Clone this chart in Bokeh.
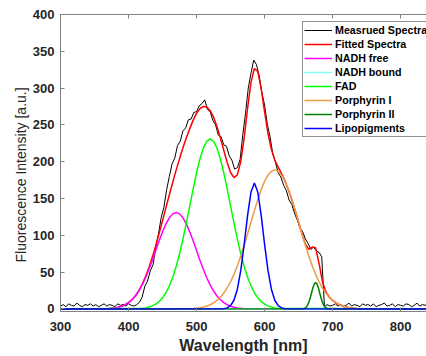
from bokeh.plotting import figure
from bokeh.models import Range1d, LinearAxis, FixedTicker, Title, Legend, LegendItem
from bokeh.embed import file_html
from bokeh.resources import INLINE

# ---------------- data ----------------
x_ticks = [300, 400, 500, 600, 700, 800]
y_ticks = [0, 50, 100, 150, 200, 250, 300, 350, 400]

# measured spectrum, 4 nm grid 300..840
meas_x = list(range(300, 841, 4))
meas_y = [4, 6, 3, 7, 5, 4, 8, 5, 3, 6, 5, 7, 4, 6, 3, 5, 7, 4, 6, 5,
          3, 7, 5, 6, 4, 7, 5, 4, 6,
          9, 16, 31, 38, 52, 60, 84, 102, 124, 138,
          162, 180, 197, 205, 222, 228, 242, 246, 257, 258,
          267, 268, 276, 279, 284, 271, 268, 256, 250, 236,
          234, 223, 221, 208, 202, 190, 192, 203, 237, 266,
          300, 320, 338, 332, 317, 294, 277, 251, 234, 211,
          199, 185, 179, 168, 161, 148, 142, 130, 121, 110,
          105, 95, 89, 81, 84, 79, 77, 71,
          3, 6, 4, 5, 7, 4, 6, 3, 5, 8, 4, 6, 5, 3, 7, 5, 6, 4, 7, 3,
          5, 6, 8, 4, 5, 7, 3, 6, 5, 4, 7, 6, 3, 5, 8, 4, 6, 5, 7]

# fitted spectrum, 5 nm grid 370..735
fit_x = [300] + list(range(370, 736, 5)) + [840]
fit_y = [0,
         0.5, 0.9, 1.5, 2.4, 3.7, 5.8, 8.6, 12.5, 17.7, 24.4,
         33.6, 44.0, 56.5, 70.5, 86.1, 102.7, 120.1, 137.7, 155.2, 172.2,
         188.6, 204.2, 218.9, 232.6, 245.0, 256.5, 265.7, 272.0, 275.1, 274.3,
         269.5, 260.5, 247.8, 232.4, 215.6, 199.0, 185.4, 178.4, 182.2, 200.3,
         232.5, 272.4, 307.9, 326.7, 322.5, 299.3, 267.8, 238.4, 216.7, 202.4,
         192.7, 183.8, 173.7, 162.0, 148.5, 133.6, 117.8, 101.9, 88.1, 81.0,
         84.2, 83.1, 62.4, 37.5, 23.2, 16.0, 11.6, 8.3, 5.8, 4.0,
         2.7, 1.8, 1.2, 0.7,
         0]

nadh_free_x = [300] + list(range(370, 571, 5)) + [840]
nadh_free_y = [0,
               0.5, 0.9, 1.5, 2.4, 3.7, 5.8, 8.6, 12.5, 17.7, 24.4,
               32.7, 42.5, 53.9, 66.3, 79.5, 92.6, 104.9, 115.6, 123.9, 129.2,
               131.0,
               129.2, 123.9, 115.6, 104.9, 92.6, 79.5, 66.3, 53.9, 42.5, 32.7,
               24.4, 17.7, 12.5, 8.6, 5.8, 3.7, 2.4, 1.5, 0.9, 0.5,
               0]

nadh_bound_x = [300, 840]
nadh_bound_y = [0, 0]

fad_x = [300] + list(range(420, 621, 5)) + [840]
fad_y = [0,
         0.9, 1.5, 2.6, 4.2, 6.6, 10.1, 15.2, 22.1, 31.3, 43.0,
         57.6, 75.0, 95.0, 117.0, 140.1, 163.2, 185.0, 203.9, 218.5, 227.8,
         231.0,
         227.8, 218.5, 203.9, 185.0, 163.2, 140.1, 117.0, 95.0, 75.0, 57.6,
         43.0, 31.3, 22.1, 15.2, 10.1, 6.6, 4.2, 2.6, 1.5, 0.9,
         0]

porph1_x = [300] + list(range(495, 736, 5)) + [840]
porph1_y = [0,
            0.7, 1.2, 1.8, 2.7, 4.0, 5.8, 8.3, 11.6, 16.0, 21.6, 28.5, 37.0,
            47.1, 58.8, 72.0, 86.5, 101.9, 117.8, 133.6, 148.5, 162.0, 173.3,
            181.8, 187.2,
            189.0,
            187.2, 181.8, 173.3, 162.0, 148.5, 133.6, 117.8, 101.9, 86.5, 72.0,
            58.8, 47.1, 37.0, 28.5, 21.6, 16.0, 11.6, 8.3, 5.8, 4.0, 2.7, 1.8,
            1.2, 0.7,
            0]

porph2_x = [300] + list(range(657, 694, 2)) + [840]
porph2_y = [0,
            0.4, 1.0, 2.4, 4.9, 9.0, 14.8, 21.8, 28.8, 34.1,
            36.0,
            34.1, 28.8, 21.8, 14.8, 9.0, 4.9, 2.4, 1.0, 0.4,
            0]

lipo_x = [300] + list(range(540, 631, 5)) + [840]
lipo_y = [0,
          0.4, 1.5, 4.6, 11.9, 26.9, 52.4, 87.9, 127.2, 158.8,
          171.0,
          158.8, 127.2, 87.9, 52.4, 26.9, 11.9, 4.6, 1.5, 0.4,
          0]

series = [
    ("Measrued Spectra", meas_x, meas_y, "#000000", 1.0),
    ("Fitted Spectra", fit_x, fit_y, "#FF0000", 1.5),
    ("NADH free", nadh_free_x, nadh_free_y, "#FF00FF", 1.5),
    ("NADH bound", nadh_bound_x, nadh_bound_y, "#80FFFF", 1.5),
    ("FAD", fad_x, fad_y, "#00FF00", 1.5),
    ("Porphyrin I", porph1_x, porph1_y, "#EE9A45", 1.5),
    ("Porphyrin II", porph2_x, porph2_y, "#008000", 1.5),
    ("Lipopigments", lipo_x, lipo_y, "#0000FF", 1.5),
]

# ---------------- figure ----------------
FONT = "Liberation Sans"
AX = "#808080"
TXT = "#262626"

p = figure(width=426, height=356, output_backend="svg", toolbar_location=None,
           x_range=Range1d(300, 838), y_range=Range1d(-3.4, 400),
           min_border_left=60, min_border_right=0, min_border_top=14,
           min_border_bottom=44, x_axis_label="Wavelength [nm]")
p.outline_line_color = None
p.grid.visible = False
p.background_fill_color = "white"

for ax in (p.xaxis[0], p.yaxis[0]):
    ax.major_tick_in = 4
    ax.major_tick_out = 0
    ax.minor_tick_line_color = None
    ax.axis_line_color = AX
    ax.major_tick_line_color = AX
    ax.major_label_text_font = FONT
    ax.major_label_text_font_style = "bold"
    ax.major_label_text_font_size = "13px"
    ax.major_label_text_color = TXT

p.xaxis.ticker = FixedTicker(ticks=x_ticks)
p.yaxis.ticker = FixedTicker(ticks=y_ticks)
p.xaxis.major_label_standoff = 10
p.yaxis.major_label_standoff = 6
p.xaxis.axis_label_text_font = FONT
p.xaxis.axis_label_text_font_style = "bold"
p.xaxis.axis_label_text_font_size = "16px"
p.xaxis.axis_label_text_color = TXT
p.xaxis.axis_label_standoff = 3

# box top edge with inward ticks, no labels
top = LinearAxis(ticker=FixedTicker(ticks=x_ticks),
                 major_label_overrides={t: "" for t in x_ticks},
                 major_label_text_color=None,
                 major_tick_in=4, major_tick_out=0, minor_tick_line_color=None,
                 axis_line_color=AX, major_tick_line_color=AX, major_label_standoff=0)
p.add_layout(top, "above")

ylab = Title(text="Fluorescence Intensity [a.u.]", align="left", offset=49,
             text_font=FONT, text_font_size="14px", text_font_style="normal",
             text_color=TXT, standoff=2)
p.add_layout(ylab, "left")

items = []
for name, xs, ys, col, lw in series:
    r = p.line(xs, ys, line_color=col, line_width=lw)
    items.append(LegendItem(label=name, renderers=[r]))

legend = Legend(items=items, location=(242, 174), padding=1, spacing=0,
                glyph_width=28, glyph_height=14, label_height=14, label_standoff=3,
                label_text_font=FONT, label_text_font_style="bold",
                label_text_font_size="10.7px", label_text_color="#000000",
                border_line_color=TXT, border_line_width=1,
                background_fill_color="white", background_fill_alpha=1.0, margin=0)
p.add_layout(legend)

open("out.html", "w").write(file_html(p, INLINE))
